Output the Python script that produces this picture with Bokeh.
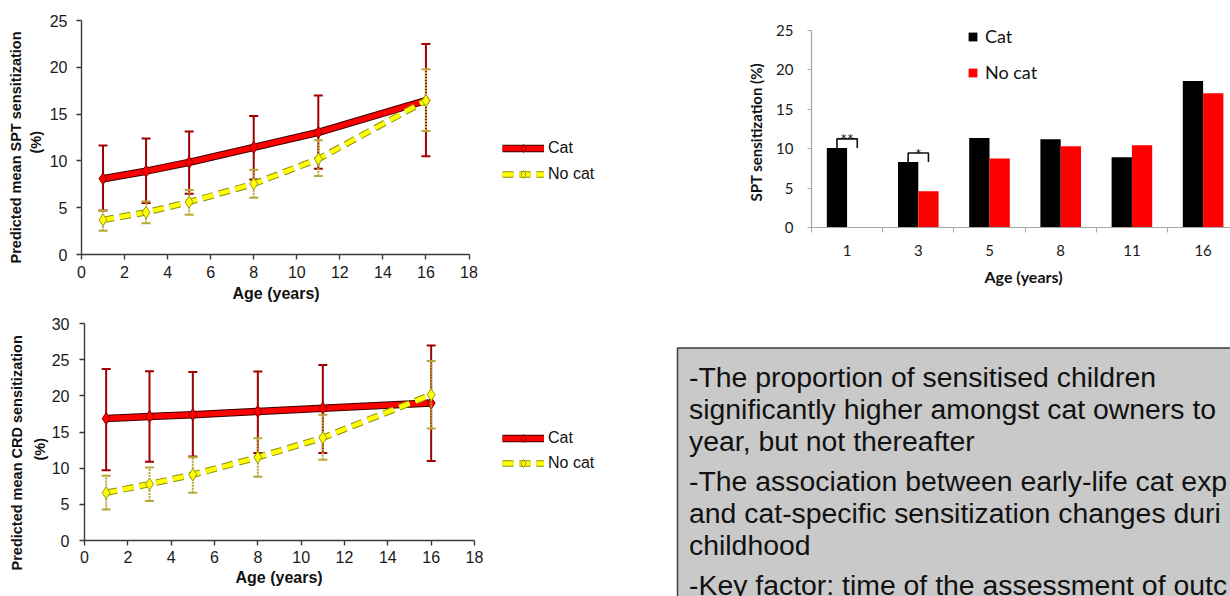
import numpy as np
from bokeh.plotting import figure
from bokeh.layouts import column, row
from bokeh.models import Range1d, FixedTicker, Legend, LegendItem, Title, ColumnDataSource
from bokeh.core.properties import value
from bokeh.embed import file_html
from bokeh.resources import INLINE

# ---------------- data ----------------
AGES = [1, 3, 5, 8, 11, 16]
X_TICKS = [0, 2, 4, 6, 8, 10, 12, 14, 16, 18]

SPT_Y_TICKS = [0, 5, 10, 15, 20, 25]
SPT_CAT = [8.1, 8.9, 9.85, 11.45, 13.05, 16.45]
SPT_CAT_LO = [4.7, 5.5, 6.5, 8.0, 9.15, 10.5]
SPT_CAT_HI = [11.65, 12.4, 13.15, 14.8, 17.0, 22.5]
SPT_NOCAT = [3.7, 4.5, 5.6, 7.55, 10.2, 16.45]
SPT_NOCAT_LO = [2.55, 3.35, 4.25, 6.05, 8.4, 13.2]
SPT_NOCAT_HI = [4.7, 5.65, 6.9, 9.05, 12.2, 19.8]

CRD_Y_TICKS = [0, 5, 10, 15, 20, 25, 30]
CRD_CAT = [16.85, 17.15, 17.4, 17.85, 18.3, 19.0]
CRD_CAT_LO = [9.7, 10.9, 11.6, 12.1, 12.1, 11.0]
CRD_CAT_HI = [23.7, 23.4, 23.3, 23.35, 24.25, 26.95]
CRD_NOCAT = [6.6, 7.8, 9.1, 11.5, 14.2, 20.15]
CRD_NOCAT_LO = [4.3, 5.45, 6.6, 8.8, 11.15, 15.5]
CRD_NOCAT_HI = [8.95, 10.1, 11.5, 14.15, 17.4, 24.8]

BAR_AGES = ["1", "3", "5", "8", "11", "16"]
BAR_CAT = [10.1, 8.3, 11.35, 11.2, 8.9, 18.6]
BAR_NOCAT = [np.nan, 4.6, 8.75, 10.3, 10.45, 17.05]
BAR_Y_TICKS = [0, 5, 10, 15, 20, 25]
SIG_AGES = ["1", "3"]
SIG_MARKS = ["**", "*"]

TEXT_LINES = [
    "-The proportion of sensitised children",
    "significantly higher amongst cat owners to",
    "year, but not thereafter",
    "-The association between early-life cat exp",
    "and cat-specific sensitization changes duri",
    "childhood",
    "-Key factor: time of the assessment of outc",
]
TEXT_PARA = [0, 0, 0, 1, 1, 1, 2]

ARIAL = "Liberation Sans"
CALIBRI = "Lato"
ROW1_H = 308
PAGE_W, PAGE_H = 1230, 596


def style_common(p):
    p.outline_line_color = None
    p.xgrid.grid_line_color = None
    p.ygrid.grid_line_color = None
    p.background_fill_color = "white"
    p.border_fill_color = "white"


def add_title(p, side, text, font, size, offset, standoff):
    p.add_layout(Title(text=text, align="left", vertical_align="middle", offset=offset,
                       standoff=standoff, text_font=font, text_font_size=size,
                       text_font_style="bold", text_color="#111111"), side)


def line_chart(width, height, fig_top, f_left, f_top, f_bottom, x18_px, y_max, y_ticks,
               cat, cat_lo, cat_hi, no, no_lo, no_hi, ylab, ylab_span, ylab_so,
               pct_span, pct_so, xlab_left, xlab_so,
               legend_x, legend_cat_y, legend_pitch, ytick_standoff, xtick_standoff):
    mb_l = f_left
    mb_t = f_top - fig_top
    mb_b = fig_top + height - f_bottom
    frame_w = width - mb_l
    ppx = (x18_px - f_left) / 18.0
    x_end = frame_w / ppx

    p = figure(width=width, height=height, x_range=Range1d(0, x_end), y_range=Range1d(0, y_max),
               min_border_left=mb_l, min_border_right=0, min_border_top=mb_t, min_border_bottom=mb_b,
               output_backend="svg", toolbar_location=None, tools="", title=None)
    p.frame_align = False
    style_common(p)

    src = ColumnDataSource(dict(x=AGES, cat=cat, cat_lo=cat_lo, cat_hi=cat_hi,
                                no=no, no_lo=no_lo, no_hi=no_hi))
    # Cat series
    r_ce = p.line("x", "cat", source=src, line_color="#3a0000", line_width=7.5, line_join="round")
    r_c = p.line("x", "cat", source=src, line_color="#ff0000", line_width=5.5, line_join="round")
    p.segment(x0="x", y0="cat_lo", x1="x", y1="cat_hi", source=src, line_color="#a00000", line_width=2)
    p.scatter("x", "cat_hi", source=src, marker="dash", size=9, line_color="#a00000", line_width=2)
    p.scatter("x", "cat_lo", source=src, marker="dash", size=9, line_color="#a00000", line_width=2)
    r_cm = p.scatter("x", "cat", source=src, marker="diamond", size=12,
                     fill_color="#ff0000", line_color="#8b0000", line_width=1)
    # No cat series
    r_ne = p.line("x", "no", source=src, line_color="#8c8c10", line_width=6.5, line_dash="11 6")
    r_n = p.line("x", "no", source=src, line_color="#ffff00", line_width=4.5, line_dash="11 6")
    p.segment(x0="x", y0="no_lo", x1="x", y1="no_hi", source=src, line_color="#b8a838",
              line_width=2, line_dash="2 1")
    p.scatter("x", "no_hi", source=src, marker="dash", size=9, line_color="#b8a838", line_width=2)
    p.scatter("x", "no_lo", source=src, marker="dash", size=9, line_color="#b8a838", line_width=2)
    r_nm = p.scatter("x", "no", source=src, marker="diamond", size=12,
                     fill_color="#ffff00", line_color="#9a9a10", line_width=1)

    # axes
    p.xaxis.ticker = FixedTicker(ticks=X_TICKS)
    p.xaxis.bounds = (0, 18)
    p.yaxis.ticker = FixedTicker(ticks=y_ticks)
    for ax in (p.xaxis, p.yaxis):
        ax.axis_line_color = "#3a3a3a"
        ax.axis_line_width = 1.4
        ax.major_tick_line_color = "#3a3a3a"
        ax.major_tick_line_width = 1.4
        ax.major_tick_out = 5
        ax.major_tick_in = 0
        ax.minor_tick_line_color = None
        ax.major_label_text_font = ARIAL
        ax.major_label_text_font_size = "16px"
        ax.major_label_text_color = "#1a1a1a"
    p.yaxis.major_label_standoff = ytick_standoff
    p.xaxis.major_label_standoff = xtick_standoff

    # axis titles (side panels, stacked outward from the frame)
    add_title(p, "left", "(%)", ARIAL, "14.5px", f_bottom - pct_span, pct_so)
    add_title(p, "left", ylab, ARIAL, "14.5px", f_bottom - ylab_span, ylab_so)
    add_title(p, "below", "Age (years)", ARIAL, "16px", xlab_left - f_left, xlab_so)

    # legend
    lh = 20
    spacing = legend_pitch - lh
    top = legend_cat_y - lh / 2
    bottom = top + 2 * lh + spacing
    leg = Legend(items=[LegendItem(label="Cat", renderers=[r_ce, r_c, r_cm]),
                        LegendItem(label="No cat", renderers=[r_ne, r_n, r_nm])],
                 location=(legend_x - f_left, f_bottom - bottom),
                 glyph_width=42, glyph_height=lh, label_height=lh, spacing=spacing,
                 label_standoff=4, padding=0, margin=0, border_line_color=None,
                 background_fill_alpha=0, label_text_font=ARIAL, label_text_font_size="16px",
                 label_text_color="#111111", label_text_baseline="middle")
    p.add_layout(leg)
    return p


p1 = line_chart(620, ROW1_H, 0, 81, 20, 254, 468.5, 25, SPT_Y_TICKS,
                SPT_CAT, SPT_CAT_LO, SPT_CAT_HI, SPT_NOCAT, SPT_NOCAT_LO, SPT_NOCAT_HI,
                "Predicted mean  SPT sensitization", 263, 0, 153, 4, 232, 6,
                502, 148, 26, 9, 6)

p2 = line_chart(620, PAGE_H - ROW1_H, ROW1_H, 84, 323, 540, 474, 30, CRD_Y_TICKS,
                CRD_CAT, CRD_CAT_LO, CRD_CAT_HI, CRD_NOCAT, CRD_NOCAT_LO, CRD_NOCAT_HI,
                "Predicted mean  CRD sensitization", 570, 10, 460, 0, 235, 5,
                502, 438.3, 25, 10, 5)

# ---------------- bar chart ----------------
B_FIG_LEFT, B_W, B_H = 620, PAGE_W - 620, ROW1_H
B_F_LEFT, B_Y25_PX, B_F_TOP, B_F_BOTTOM = 811, 30, 18, 227
CAT_PX = 71.2
b_frame_w = B_W - (B_F_LEFT - B_FIG_LEFT)
b_x_end = -0.5 + b_frame_w / CAT_PX
b_ppy = (B_F_BOTTOM - B_Y25_PX) / 25.0
b_y_end = 25 + (B_Y25_PX - B_F_TOP) / b_ppy

p3 = figure(width=B_W, height=B_H, x_range=Range1d(-0.5, b_x_end), y_range=Range1d(0, b_y_end),
            min_border_left=B_F_LEFT - B_FIG_LEFT, min_border_right=0,
            min_border_top=B_F_TOP, min_border_bottom=B_H - B_F_BOTTOM,
            output_backend="svg", toolbar_location=None, tools="", title=None)
p3.frame_align = False
style_common(p3)
idx = np.arange(len(BAR_AGES), dtype=float)
BW = 0.285
bsrc = ColumnDataSource(dict(xc=idx - BW / 2, xn=idx + BW / 2, cat=BAR_CAT, no=np.array(BAR_NOCAT)))
rb = p3.vbar(x="xc", top="cat", width=BW, source=bsrc, fill_color="#000000", line_color=None)
rr = p3.vbar(x="xn", top="no", width=BW, source=bsrc, fill_color="#ff0000", line_color=None)

# significance brackets
bx, by, sx, sy = [], [], [], []
for age, mark in zip(SIG_AGES, SIG_MARKS):
    i = BAR_AGES.index(age)
    base = BAR_CAT[i]
    topv = base + 1.15
    xl, xr = i - BW / 2, i + BW / 2
    bx.append([xl, xl, xr, xr])
    by.append([base, topv, topv, base])
    sx.append(i)
    sy.append(topv)
p3.multi_line(xs=bx, ys=by, line_color="#111111", line_width=1.6)
p3.text(x=sx, y=sy, text=SIG_MARKS, text_font=value(CALIBRI), text_font_size="16px",
        text_align="center", text_baseline="alphabetic", text_color="#111111")

p3.xaxis.ticker = FixedTicker(ticks=list(idx), minor_ticks=list(idx - 0.5) + [idx[-1] + 0.5])
p3.xaxis.major_label_overrides = {float(i): lab for i, lab in zip(idx, BAR_AGES)}
p3.xaxis.bounds = (-0.5, len(BAR_AGES) - 0.5)
p3.xaxis.major_tick_out = 5
p3.xaxis.major_tick_in = 0
p3.xaxis.major_tick_line_color = None
p3.xaxis.minor_tick_out = 5
p3.xaxis.minor_tick_in = 0
p3.xaxis.minor_tick_line_color = "#a6a6a6"
p3.xaxis.major_label_standoff = 12
p3.yaxis.ticker = FixedTicker(ticks=BAR_Y_TICKS)
p3.yaxis.bounds = (0, 25)
p3.yaxis.major_tick_out = 4
p3.yaxis.major_tick_in = 0
p3.yaxis.minor_tick_line_color = None
p3.yaxis.major_tick_line_color = "#a6a6a6"
p3.yaxis.major_label_standoff = 14
for ax in (p3.xaxis, p3.yaxis):
    ax.axis_line_color = "#a6a6a6"
    ax.axis_line_width = 1.2
    ax.major_label_text_font = CALIBRI
    ax.major_label_text_font_size = "15px"
    ax.major_label_text_color = "#1a1a1a"

add_title(p3, "left", "SPT sensitization (%)", CALIBRI, "15px", B_F_BOTTOM - 201, 15)
add_title(p3, "below", "Age (years)", CALIBRI, "16px", 984 - B_F_LEFT, 14)

blh, bsp = 22, 14
btop = 36 - blh / 2
bbot = btop + 2 * blh + bsp
leg3 = Legend(items=[LegendItem(label="Cat", renderers=[rb]), LegendItem(label="No cat", renderers=[rr])],
              location=(967 - B_F_LEFT, B_F_BOTTOM - bbot), glyph_width=11, glyph_height=11,
              label_height=blh, spacing=bsp, label_standoff=7, padding=0, margin=0,
              border_line_color=None, background_fill_alpha=0, label_text_font=CALIBRI,
              label_text_font_size="18px", label_text_color="#111111")
p3.add_layout(leg3)

# ---------------- text box ----------------
T_W, T_H = PAGE_W - 620, PAGE_H - ROW1_H
T_FIG_LEFT, T_FIG_TOP = 620, ROW1_H
p4 = figure(width=T_W, height=T_H, x_range=Range1d(0, T_W), y_range=Range1d(T_H, 0),
            min_border=0, min_border_left=0, min_border_right=0, min_border_top=0, min_border_bottom=0,
            x_axis_location=None, y_axis_location=None, title=None,
            output_backend="svg", toolbar_location=None, tools="")
p4.frame_align = False
style_common(p4)
BOX_L, BOX_T = 677 - T_FIG_LEFT, 347.5 - T_FIG_TOP
p4.quad(left=[BOX_L], right=[T_W + 10], top=[BOX_T], bottom=[T_H + 10],
        fill_color="#c9c9c9", line_color="#3c3c3c", line_width=1.5)
LINE_H, PARA_GAP, FIRST_BASE = 32.0, 8.0, 376.5 - T_FIG_TOP
ty = [FIRST_BASE + i * LINE_H + para * PARA_GAP for i, para in enumerate(TEXT_PARA)]
p4.text(x=[688.5 - T_FIG_LEFT] * len(TEXT_LINES), y=ty, text=TEXT_LINES,
        text_font=value(ARIAL), text_font_size="28.4px", text_baseline="alphabetic",
        text_align="left", text_color="#111111")

layout = column(row(p1, p3), row(p2, p4))
open("out.html", "w").write(file_html(layout, INLINE))
